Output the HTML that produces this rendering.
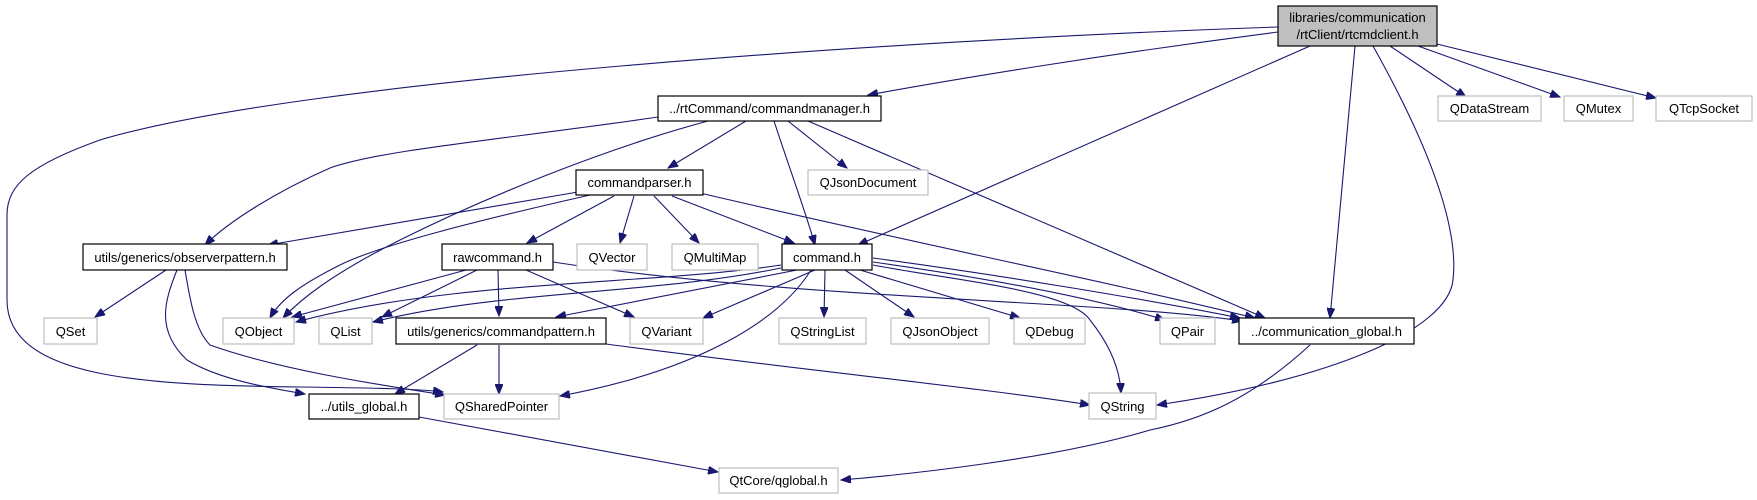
<!DOCTYPE html>
<html><head><meta charset="utf-8"><style>
html,body{margin:0;padding:0;background:#fff;}
svg{display:block;}
text{font-family:"Liberation Sans",Helvetica,sans-serif;font-size:13px;fill:#000;}
.e{fill:none;stroke:#191970;stroke-width:1.1;marker-end:url(#a);}
.b{fill:#fff;stroke:#000;stroke-width:1.2;}
.g{fill:#fff;stroke:#bfbfbf;stroke-width:1.2;}
</style></head><body>
<svg width="1757" height="500" viewBox="0 0 1757 500" xmlns="http://www.w3.org/2000/svg">
<defs><marker id="a" markerUnits="userSpaceOnUse" markerWidth="11" markerHeight="8" refX="10" refY="4" orient="auto"><path d="M0,0 L10,4 L0,8 z" fill="#191970" stroke="#191970"/></marker></defs>

<path class="e" d="M1278,32 C1100,55 950,80 868,95"/>
<path class="e" d="M1310,46 L858,245"/>
<path class="e" d="M1355,46 L1330,318"/>
<path class="e" d="M1373,46 C1420,130 1460,220 1453,280 C1448,330 1330,380 1157,405"/>
<path class="e" d="M1390,46 L1466,97"/>
<path class="e" d="M1418,46 L1560,97"/>
<path class="e" d="M1437,44 L1656,98"/>
<path class="e" d="M1278,27 C900,40 300,80 100,140 C30,165 7,185 7,215 L7,300 C7,380 150,385 300,387 C380,388 420,389 443,392"/>

<path class="e" d="M658,117 C500,140 380,150 330,168 C280,190 230,220 205,245"/>
<path class="e" d="M708,121 C600,150 480,200 400,240 C330,275 300,300 283,318"/>
<path class="e" d="M746,121 L668,168"/>
<path class="e" d="M774,121 C790,170 805,210 815,245"/>
<path class="e" d="M788,121 L847,168"/>
<path class="e" d="M808,121 L1265,318"/>

<path class="e" d="M578,192 L268,245"/>
<path class="e" d="M590,195 C480,220 380,245 340,265 C300,285 280,300 270,318"/>
<path class="e" d="M614,196 L527,243"/>
<path class="e" d="M634,196 L620,243"/>
<path class="e" d="M654,196 L699,243"/>
<path class="e" d="M672,196 L794,243"/>
<path class="e" d="M700,193 C900,240 1100,280 1255,318"/>

<path class="e" d="M166,270 L95,317"/>
<path class="e" d="M177,270 C165,300 155,330 187,360 C220,380 270,388 305,394"/>
<path class="e" d="M185,270 C190,300 195,330 210,345 C280,370 380,385 445,395"/>

<path class="e" d="M466,270 L292,317"/>
<path class="e" d="M477,270 L382,317"/>
<path class="e" d="M498,270 L499,316"/>
<path class="e" d="M526,270 L634,317"/>
<path class="e" d="M553,262 C800,300 1100,300 1242,321"/>

<path class="e" d="M781,265 C650,285 450,280 296,322"/>
<path class="e" d="M781,268 C650,295 500,290 373,322"/>
<path class="e" d="M797,270 L556,317"/>
<path class="e" d="M815,270 L703,318"/>
<path class="e" d="M811,270 C780,320 700,370 560,396"/>
<path class="e" d="M825,270 L824,317"/>
<path class="e" d="M845,270 L914,317"/>
<path class="e" d="M860,270 L1020,318"/>
<path class="e" d="M873,265 C950,280 1070,290 1090,320 C1110,345 1120,370 1121,393"/>
<path class="e" d="M873,262 C1000,280 1100,300 1165,320"/>
<path class="e" d="M873,258 C1000,275 1150,300 1240,318"/>

<path class="e" d="M477,345 L395,394"/>
<path class="e" d="M499,345 L499,394"/>
<path class="e" d="M606,344 C800,370 1000,390 1090,405"/>
<path class="e" d="M419,417 L718,472"/>
<path class="e" d="M1310,345 C1250,400 1200,420 1150,430 C1050,460 900,475 841,480"/>

<rect x="1278" y="6" width="159" height="40" fill="#bfbfbf" stroke="#000" stroke-width="1.2"/>
<text x="1357.5" y="22" text-anchor="middle">libraries/communication</text>
<text x="1357.5" y="39" text-anchor="middle">/rtClient/rtcmdclient.h</text>

<rect class="b" x="658" y="96" width="223" height="25"/><text x="769.5" y="113" text-anchor="middle">../rtCommand/commandmanager.h</text>
<rect class="g" x="1438" y="96" width="103" height="25"/><text x="1489.5" y="113" text-anchor="middle">QDataStream</text>
<rect class="g" x="1564" y="96" width="69" height="25"/><text x="1598.5" y="113" text-anchor="middle">QMutex</text>
<rect class="g" x="1656" y="96" width="96" height="25"/><text x="1704" y="113" text-anchor="middle">QTcpSocket</text>

<rect class="b" x="576" y="170" width="127" height="25"/><text x="639.5" y="187" text-anchor="middle">commandparser.h</text>
<rect class="g" x="808" y="170" width="120" height="25"/><text x="868" y="187" text-anchor="middle">QJsonDocument</text>

<rect class="b" x="83" y="244" width="204" height="26"/><text x="185" y="262" text-anchor="middle">utils/generics/observerpattern.h</text>
<rect class="b" x="442" y="244" width="111" height="26"/><text x="497.5" y="262" text-anchor="middle">rawcommand.h</text>
<rect class="g" x="577" y="244" width="70" height="26"/><text x="612" y="262" text-anchor="middle">QVector</text>
<rect class="g" x="672" y="244" width="86" height="26"/><text x="715" y="262" text-anchor="middle">QMultiMap</text>
<rect class="b" x="782" y="244" width="90" height="26"/><text x="827" y="262" text-anchor="middle">command.h</text>

<rect class="g" x="44" y="318" width="53" height="26"/><text x="70.5" y="336" text-anchor="middle">QSet</text>
<rect class="g" x="223" y="318" width="71" height="26"/><text x="258.5" y="336" text-anchor="middle">QObject</text>
<rect class="g" x="319" y="318" width="53" height="26"/><text x="345.5" y="336" text-anchor="middle">QList</text>
<rect class="b" x="396" y="318" width="210" height="26"/><text x="501" y="336" text-anchor="middle">utils/generics/commandpattern.h</text>
<rect class="g" x="630" y="318" width="73" height="26"/><text x="666.5" y="336" text-anchor="middle">QVariant</text>
<rect class="g" x="779" y="318" width="87" height="26"/><text x="822.5" y="336" text-anchor="middle">QStringList</text>
<rect class="g" x="891" y="318" width="98" height="26"/><text x="940" y="336" text-anchor="middle">QJsonObject</text>
<rect class="g" x="1014" y="318" width="71" height="26"/><text x="1049.5" y="336" text-anchor="middle">QDebug</text>
<rect class="g" x="1160" y="318" width="55" height="26"/><text x="1187.5" y="336" text-anchor="middle">QPair</text>
<rect class="b" x="1239" y="318" width="175" height="26"/><text x="1326.5" y="336" text-anchor="middle">../communication_global.h</text>

<rect class="b" x="309" y="394" width="110" height="25"/><text x="364" y="411" text-anchor="middle">../utils_global.h</text>
<rect class="g" x="444" y="394" width="115" height="25"/><text x="501.5" y="411" text-anchor="middle">QSharedPointer</text>
<rect class="g" x="1089" y="393" width="67" height="26"/><text x="1122.5" y="411" text-anchor="middle">QString</text>

<rect class="g" x="719" y="468" width="119" height="25"/><text x="778.5" y="485" text-anchor="middle">QtCore/qglobal.h</text>
</svg>
</body></html>
